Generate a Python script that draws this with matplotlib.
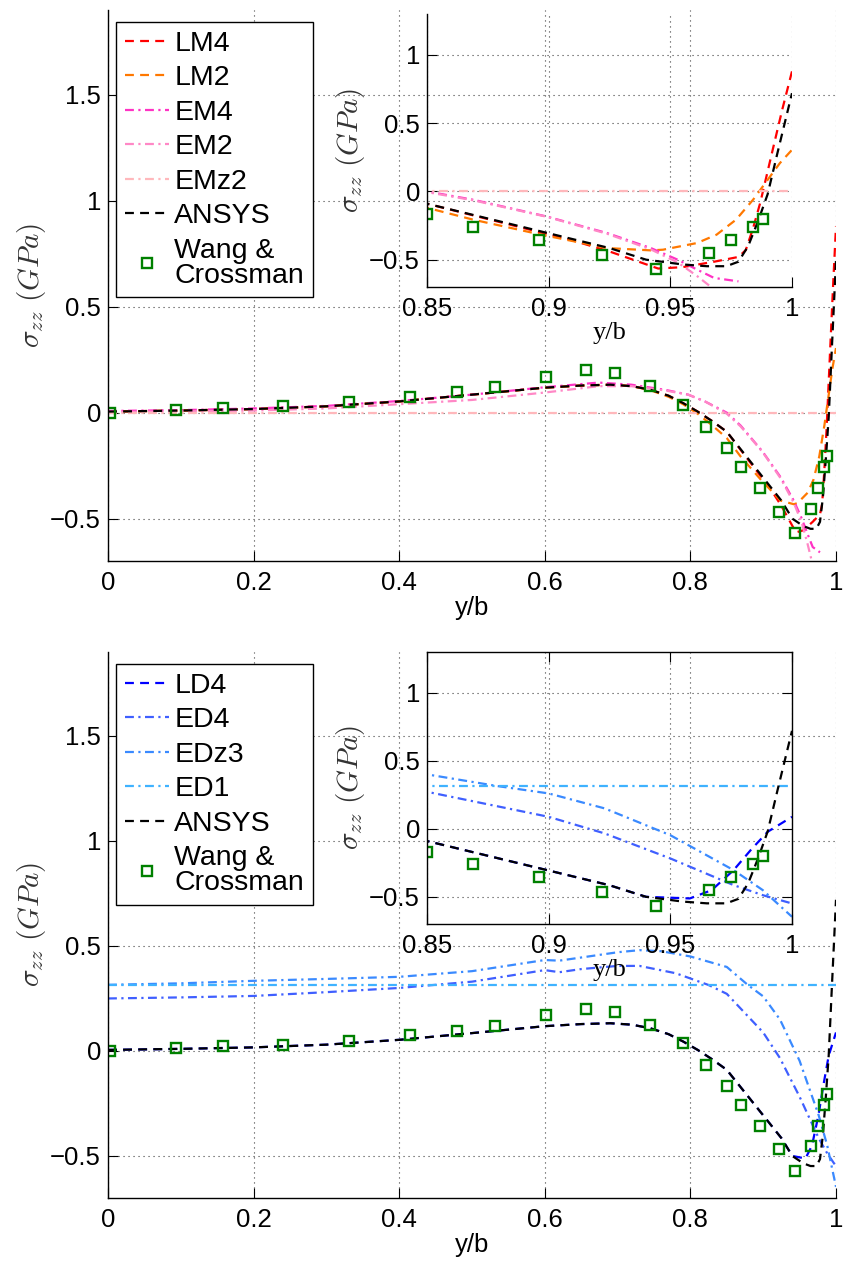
import matplotlib
matplotlib.use('Agg')
import matplotlib.pyplot as plt
from matplotlib.ticker import FuncFormatter


plt.rcParams['font.family'] = ['Liberation Sans', 'DejaVu Sans']
plt.rcParams['mathtext.fontset'] = 'cm'

# experimental points (same in both panels)
wang_x = [0.003, 0.093, 0.158, 0.241, 0.331, 0.415, 0.480, 0.532, 0.601, 0.656, 0.696,
          0.745, 0.790, 0.822, 0.850, 0.869, 0.896, 0.922, 0.944, 0.966, 0.975, 0.984, 0.988]
wang_y = [0.0, 0.013, 0.024, 0.030, 0.048, 0.074, 0.096, 0.121, 0.170, 0.200, 0.187,
          0.124, 0.036, -0.069, -0.168, -0.258, -0.355, -0.468, -0.570, -0.453, -0.356, -0.258, -0.203]

# ANSYS reference
ansys_x = [0, 0.1, 0.2, 0.3, 0.4, 0.5, 0.6, 0.65, 0.69, 0.72, 0.745, 0.77, 0.79, 0.81, 0.83,
           0.85, 0.88, 0.91, 0.925, 0.94, 0.955, 0.965, 0.973, 0.978, 0.982, 0.986, 0.99,
           0.994, 0.997, 1.0]
ansys_y = [0.005, 0.01, 0.017, 0.03, 0.053, 0.085, 0.118, 0.128, 0.132, 0.125, 0.108, 0.08,
           0.045, 0.005, -0.04, -0.09, -0.22, -0.35, -0.415, -0.50, -0.535, -0.548, -0.548,
           -0.515, -0.40, -0.22, -0.02, 0.28, 0.50, 0.72]

# top panel models
lm4_x = [0, 0.1, 0.2, 0.3, 0.4, 0.5, 0.6, 0.65, 0.69, 0.72, 0.745, 0.77, 0.79, 0.81, 0.83,
         0.85, 0.88, 0.91, 0.925, 0.945, 0.955, 0.968, 0.978, 0.981, 0.984, 0.987, 0.992,
         0.996, 1.0]
lm4_y = [0.005, 0.01, 0.017, 0.03, 0.053, 0.085, 0.118, 0.128, 0.132, 0.125, 0.108, 0.08,
         0.045, 0.005, -0.04, -0.09, -0.225, -0.36, -0.44, -0.565, -0.555, -0.515, -0.48,
         -0.43, -0.27, -0.08, 0.30, 0.60, 0.88]
lm2_x = [0, 0.1, 0.2, 0.3, 0.4, 0.5, 0.6, 0.65, 0.69, 0.72, 0.745, 0.77, 0.79, 0.81, 0.83,
         0.85, 0.869, 0.897, 0.924, 0.942, 0.947, 0.961, 0.969, 0.977, 0.984, 0.990, 0.995, 1.0]
lm2_y = [0.005, 0.01, 0.017, 0.03, 0.053, 0.085, 0.118, 0.128, 0.132, 0.125, 0.106, 0.075,
         0.04, -0.005, -0.06, -0.12, -0.207, -0.317, -0.415, -0.432, -0.427, -0.378, -0.317,
         -0.207, -0.061, 0.085, 0.207, 0.305]
em4_x = [0, 0.1, 0.2, 0.3, 0.4, 0.5, 0.6, 0.674, 0.719, 0.765, 0.797, 0.82, 0.85, 0.869,
         0.899, 0.924, 0.942, 0.953, 0.961, 0.968, 0.978]
em4_y = [0.008, 0.012, 0.02, 0.032, 0.055, 0.085, 0.12, 0.142, 0.132, 0.108, 0.085, 0.053,
         0.0, -0.061, -0.183, -0.305, -0.415, -0.5, -0.573, -0.634, -0.659]
em2_x = [0, 0.1, 0.2, 0.3, 0.4, 0.5, 0.6, 0.674, 0.719, 0.765, 0.797, 0.82, 0.85, 0.869,
         0.899, 0.924, 0.942, 0.953, 0.961, 0.966, 0.972]
em2_y = [0.003, 0.006, 0.01, 0.02, 0.04, 0.06, 0.095, 0.125, 0.125, 0.105, 0.085, 0.053,
         -0.005, -0.065, -0.185, -0.31, -0.425, -0.52, -0.62, -0.69, -0.78]
emz2_x = [0, 1]
emz2_y = [0, 0]

# bottom panel models
ld4_x = [0, 0.1, 0.2, 0.3, 0.4, 0.5, 0.6, 0.65, 0.69, 0.72, 0.745, 0.77, 0.79, 0.81, 0.83,
         0.85, 0.88, 0.91, 0.925, 0.94, 0.958, 0.967, 0.976, 0.983, 0.990, 1.0]
ld4_y = [0.005, 0.01, 0.017, 0.03, 0.053, 0.085, 0.118, 0.128, 0.132, 0.125, 0.108, 0.08,
         0.045, 0.005, -0.04, -0.09, -0.22, -0.35, -0.415, -0.50, -0.512, -0.451, -0.304,
         -0.157, -0.022, 0.088]
ed4_x = [0, 0.1, 0.2, 0.3, 0.4, 0.5, 0.6, 0.62, 0.65, 0.7, 0.73, 0.78, 0.825, 0.85, 0.9,
         0.923, 0.95, 0.976, 0.988, 1.0]
ed4_y = [0.25, 0.255, 0.262, 0.28, 0.30, 0.33, 0.385, 0.375, 0.39, 0.405, 0.405, 0.37,
         0.314, 0.272, 0.088, -0.034, -0.218, -0.414, -0.488, -0.549]
edz3_x = [0, 0.1, 0.2, 0.3, 0.4, 0.5, 0.6, 0.62, 0.65, 0.7, 0.73, 0.76, 0.8, 0.85, 0.879,
          0.9, 0.923, 0.95, 0.976, 0.988, 1.0]
edz3_y = [0.315, 0.322, 0.334, 0.343, 0.353, 0.38, 0.433, 0.43, 0.445, 0.47, 0.48, 0.475,
          0.45, 0.40, 0.314, 0.26, 0.15, -0.047, -0.304, -0.451, -0.647]
ed1_x = [0, 1]
ed1_y = [0.315, 0.315]

main_xticks = [0, 0.2, 0.4, 0.6, 0.8, 1]
main_yticks = [-0.5, 0, 0.5, 1, 1.5]
inset_xticks = [0.85, 0.9, 0.95, 1]
inset_yticks = [-0.5, 0, 0.5, 1]

DASH = (0, (4, 2.8))
DASHDOT = (0, (4, 2, 1, 2))
LW = 1.6
YLABEL = r'$\sigma_{zz}\ (GPa)$'


def fmt(v, pos):
    return ('%g' % v).replace('-', '\u2212')


def style(ax, xlim, ylim, xt, yt, box):
    ax.set_xlim(xlim)
    ax.set_ylim(ylim)
    ax.set_xticks(xt)
    ax.set_yticks(yt)
    ax.xaxis.set_major_formatter(FuncFormatter(fmt))
    ax.yaxis.set_major_formatter(FuncFormatter(fmt))
    ax.tick_params(direction='in', length=7, width=0.8, labelsize=18.5, colors='black')
    ax.tick_params(axis='x', pad=7)
    ax.tick_params(axis='y', pad=5)
    if box:
        ax.tick_params(top=True, right=True)
    else:
        ax.spines['top'].set_visible(False)
        ax.spines['right'].set_visible(False)
    for s in ax.spines.values():
        s.set_linewidth(1.0)
    ax.grid(True, color='0.25', linestyle=(0, (1, 3.5)), linewidth=0.8)
    ax.set_axisbelow(True)


def draw_curves(ax, curves):
    for x, y, c, ls, lab in curves:
        ax.plot(x, y, color=c, linestyle=ls, linewidth=LW, label=lab)
    ax.plot(wang_x, wang_y, 's', color='#008000', mfc='none', ms=7.5, mew=1.7,
            label='Wang &\nCrossman')


top_curves = [
    (lm4_x, lm4_y, '#FF0000', DASH, 'LM4'),
    (lm2_x, lm2_y, '#FF7800', DASH, 'LM2'),
    (em4_x, em4_y, '#FF33C4', DASHDOT, 'EM4'),
    (em2_x, em2_y, '#FF88C6', DASHDOT, 'EM2'),
    (emz2_x, emz2_y, '#FFB8BC', DASHDOT, 'EMz2'),
    (ansys_x, ansys_y, 'black', DASH, 'ANSYS'),
]
bot_curves = [
    (ld4_x, ld4_y, '#0000FF', DASH, 'LD4'),
    (ed4_x, ed4_y, '#3F5FFF', DASHDOT, 'ED4'),
    (edz3_x, edz3_y, '#3A8AFF', DASHDOT, 'EDz3'),
    (ed1_x, ed1_y, '#3FB2FF', DASHDOT, 'ED1'),
    (ansys_x, ansys_y, 'black', DASH, 'ANSYS'),
]

fig = plt.figure(figsize=(8.43, 12.63), dpi=100)

panels = [
    (top_curves, [0.1281, 0.5558, 0.8636, 0.4363], [0.5065, 0.7728, 0.4330, 0.2161], False),
    (bot_curves, [0.1281, 0.0515, 0.8636, 0.4323], [0.5065, 0.2684, 0.4330, 0.2154], True),
]

for curves, main_pos, inset_pos, inset_box in panels:
    ax = fig.add_axes(main_pos)
    style(ax, (0, 1), (-0.7, 1.9), main_xticks, main_yticks, False)
    draw_curves(ax, curves)
    ax.set_xlabel('y/b', fontsize=18.5, labelpad=1)
    ax.set_ylabel(YLABEL, fontsize=21, color='#333333')
    ax.yaxis.set_label_coords(-0.082, 0.5)
    leg = ax.legend(loc='upper left', bbox_to_anchor=(0.011, 0.978), borderaxespad=0,
                    fontsize=20.5, frameon=True, fancybox=False, framealpha=1,
                    edgecolor='black', handlelength=1.55, handletextpad=0.2,
                    labelspacing=0.3, borderpad=0.3, numpoints=1)
    leg.get_frame().set_linewidth(1.0)
    for t in leg.get_texts():
        t.set_linespacing(0.95)

    # zoomed view near the free edge
    axi = fig.add_axes(inset_pos)
    axi.patch.set_alpha(0)
    style(axi, (0.85, 1), (-0.7, 1.3), inset_xticks, inset_yticks, inset_box)
    draw_curves(axi, curves)
    axi.set_xlabel('y/b', fontsize=19, family='Liberation Serif', labelpad=1)
    axi.set_ylabel(YLABEL, fontsize=21, color='#333333')
    axi.yaxis.set_label_coords(-0.165, 0.5)

fig.savefig('out.png', dpi=100)
